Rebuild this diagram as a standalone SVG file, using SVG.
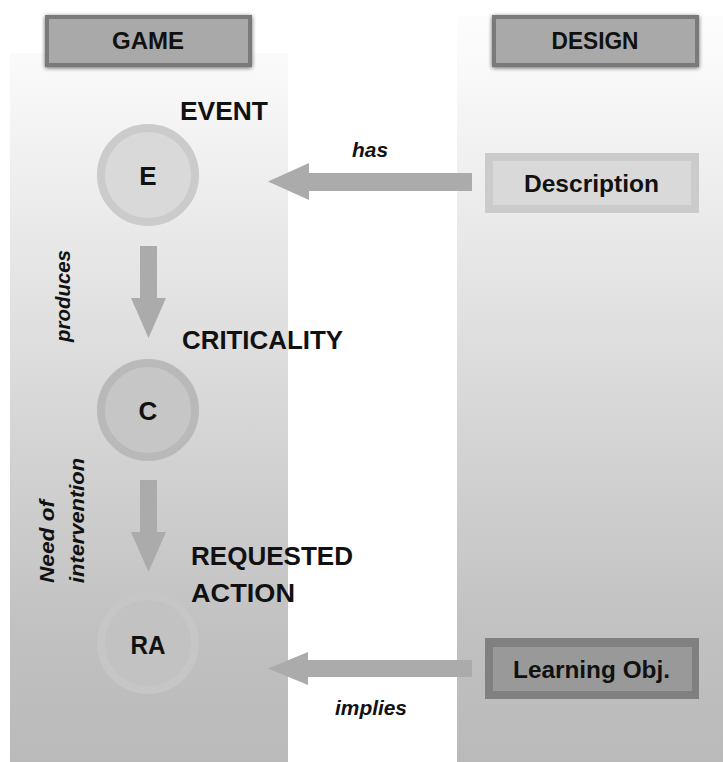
<svg xmlns="http://www.w3.org/2000/svg" width="723" height="762" viewBox="0 0 723 762">
  <defs>
    <linearGradient id="bg" gradientUnits="userSpaceOnUse" x1="0" y1="15" x2="0" y2="762">
      <stop offset="0" stop-color="#fdfdfd"/>
      <stop offset="0.06" stop-color="#fafafa"/>
      <stop offset="0.84" stop-color="#c0c0c0"/>
      <stop offset="1" stop-color="#bababa"/>
    </linearGradient>
    <filter id="shadow" x="-10%" y="-30%" width="120%" height="160%">
      <feGaussianBlur in="SourceAlpha" stdDeviation="2"/>
      <feOffset dx="0" dy="1" result="b"/>
      <feComponentTransfer><feFuncA type="linear" slope="0.6"/></feComponentTransfer>
      <feMerge><feMergeNode/><feMergeNode in="SourceGraphic"/></feMerge>
    </filter>
  </defs>
  <style>
    .t { font-family: "Liberation Sans", Arial, sans-serif; font-weight: bold; fill: #111111; }
    .lbl { font-family: "Liberation Sans", Arial, sans-serif; font-weight: bold; font-style: italic; fill: #111111; font-size: 21px; }
    .hdr { fill: #a9a9a9; stroke: #7a7a7a; stroke-width: 4; }
    .arrow { fill: #ababab; }
  </style>

  <rect width="723" height="762" fill="#ffffff"/>
  <g id="panels">
    <rect x="10" y="53" width="278" height="709" fill="url(#bg)"/>
    <rect x="457" y="15" width="266" height="747" fill="url(#bg)"/>
  </g>

  <g id="game-header">
    <rect class="hdr" x="47" y="17" width="203" height="48" filter="url(#shadow)"/>
    <text class="t" x="148" y="49" font-size="23" text-anchor="middle" textLength="72" lengthAdjust="spacingAndGlyphs">GAME</text>
  </g>
  <g id="design-header">
    <rect class="hdr" x="494" y="17" width="203" height="48" filter="url(#shadow)"/>
    <text class="t" x="595" y="49" font-size="23" text-anchor="middle" textLength="87" lengthAdjust="spacingAndGlyphs">DESIGN</text>
  </g>

  <g id="connectors">
    <polygon class="arrow" points="472,173 309,173 309,163 268,181.5 309,200 309,191 472,191"/>
    <polygon class="arrow" points="140,246 157,246 157,298 166,298 148.5,338 131,298 140,298"/>
    <polygon class="arrow" points="140,480 157,480 157,532 166,532 148.5,572 131,532 140,532"/>
    <polygon class="arrow" points="472,660 308,660 308,652 268,668.5 308,685 308,677 472,677"/>
    <text class="lbl" x="352" y="157" textLength="36" lengthAdjust="spacingAndGlyphs">has</text>
    <text class="lbl" x="335" y="715" textLength="72" lengthAdjust="spacingAndGlyphs">implies</text>
    <text class="lbl" transform="translate(70,342) rotate(-90)" textLength="92" lengthAdjust="spacingAndGlyphs">produces</text>
    <text class="lbl" transform="translate(54,583) rotate(-90)" textLength="83" lengthAdjust="spacingAndGlyphs">Need of</text>
    <text class="lbl" transform="translate(84,583) rotate(-90)" textLength="125" lengthAdjust="spacingAndGlyphs">intervention</text>
  </g>

  <g id="event">
    <circle cx="148" cy="175" r="47" fill="#d9d9d9" stroke="#cbcbcb" stroke-width="8"/>
    <text class="t" x="148" y="185" font-size="26" text-anchor="middle">E</text>
    <text class="t" x="180" y="120" font-size="26" textLength="88" lengthAdjust="spacingAndGlyphs">EVENT</text>
  </g>

  <g id="criticality">
    <circle cx="148" cy="410" r="47" fill="#c6c6c6" stroke="#b9b9b9" stroke-width="8"/>
    <text class="t" x="148" y="420" font-size="26" text-anchor="middle">C</text>
    <text class="t" x="182" y="349" font-size="26" textLength="161" lengthAdjust="spacingAndGlyphs">CRITICALITY</text>
  </g>

  <g id="requested-action">
    <circle cx="148" cy="643" r="47" fill="#c2c2c2" stroke="#c6c6c6" stroke-width="8"/>
    <text class="t" x="148" y="654" font-size="26" text-anchor="middle" textLength="35" lengthAdjust="spacingAndGlyphs">RA</text>
    <text class="t" x="191" y="565" font-size="26" textLength="162" lengthAdjust="spacingAndGlyphs">REQUESTED</text>
    <text class="t" x="191" y="602" font-size="26" textLength="104" lengthAdjust="spacingAndGlyphs">ACTION</text>
  </g>

  <g id="description">
    <rect x="485" y="153" width="214" height="60" fill="#cbcbcb"/>
    <rect x="493" y="161" width="198" height="44" fill="#d9d9d9"/>
    <text class="t" x="591.5" y="192" font-size="24" text-anchor="middle" textLength="135" lengthAdjust="spacingAndGlyphs">Description</text>
  </g>

  <g id="learning-obj">
    <rect x="485" y="638" width="214" height="61" fill="#808080"/>
    <rect x="493" y="647" width="199" height="44" fill="#999999"/>
    <text class="t" x="591.5" y="678" font-size="23" text-anchor="middle" textLength="157" lengthAdjust="spacingAndGlyphs">Learning Obj.</text>
  </g>
</svg>
